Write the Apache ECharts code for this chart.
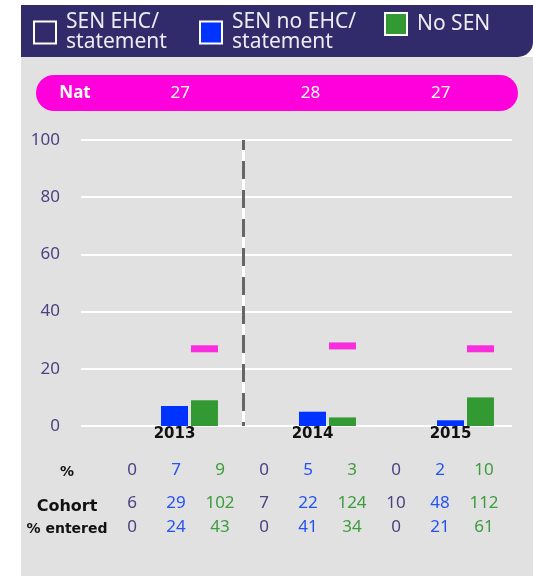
<!DOCTYPE html>
<html>
<head>
<meta charset="utf-8">
<script src="https://cdn.jsdelivr.net/npm/echarts@6/dist/echarts.min.js"></script>
<style>
  html, body { margin: 0; padding: 0; background: #fff; }
  #main { width: 533px; height: 576px; }
</style>
</head>
<body>
<div id="main"></div>
<script>
// chart data
const years = ["2013", "2014", "2015"];
const senEhc = [0, 0, 0];
const senNoEhc = [7, 5, 2];
const noSen = [9, 3, 10];
const nat = [27, 28, 27];
// table under the chart (SEN EHC, SEN no EHC, No SEN per year)
const pctRow = [0, 7, 9, 0, 5, 3, 0, 2, 10];
const cohortRow = [6, 29, 102, 7, 22, 124, 10, 48, 112];
const enteredRow = [0, 24, 43, 0, 41, 34, 0, 21, 61];

const navy = "#312a6b";
const magenta = "#ff00dc";
const blue = "#0033ff";
const green = "#339933";
const axisText = "#4a4282";
const colColors = ["#4a4282", "#2352f5", "#3d9c3d"];
const font = "Noto Sans";
const boldFont = "DejaVu Sans";

function legendItem(name, left, fill) {
  return {
    data: [{ name: name, itemStyle: { color: fill, borderColor: "#fff", borderWidth: 2 } }],
    left: left,
    top: 12,
    padding: 0,
    icon: "rect",
    itemWidth: 22,
    itemHeight: 22,
    selectedMode: false,
    textStyle: {
      color: "#ececf3",
      fontFamily: font,
      fontSize: 21,
      lineHeight: 20,
      padding: [0, 0, 0, 5],
    },
  };
}

// one text row of the table, drawn as a category axis
function tableRow(row, cy) {
  return {
    grid: { left: 110, right: 27, top: cy - 1, height: 1 },
    axis: {
      type: "category",
      data: row,
      axisLine: { show: false },
      axisTick: { show: false },
      axisLabel: {
        interval: 0,
        margin: 0,
        verticalAlign: "middle",
        formatter: function (v, i) {
          return "{c" + (i % 3) + "|" + row[i] + "}";
        },
        rich: {
          c0: { color: colColors[0], fontFamily: font, fontSize: 17 },
          c1: { color: colColors[1], fontFamily: font, fontSize: 17 },
          c2: { color: colColors[2], fontFamily: font, fontSize: 17 },
        },
      },
    },
  };
}

// divider between the first year and the rest (white line with grey dashes)
function divider(lineStyle) {
  return {
    type: "category",
    gridIndex: 1,
    boundaryGap: false,
    data: years.concat(""),
    axisLine: { show: false },
    axisTick: { show: false },
    axisLabel: { show: false },
    splitLine: {
      show: true,
      interval: function (i) {
        return i === 1;
      },
      lineStyle: lineStyle,
    },
  };
}

const rows = [tableRow(pctRow, 470), tableRow(cohortRow, 503), tableRow(enteredRow, 527)];
const natRow = {
  grid: { left: 115, right: 27, top: 92, height: 1 },
  axis: {
    type: "category",
    data: nat,
    axisLine: { show: false },
    axisTick: { show: false },
    axisLabel: { interval: 0, margin: 0, verticalAlign: "middle", color: "#fff", fontFamily: font, fontSize: 17 },
  },
};
const extra = [natRow].concat(rows);

const grids = [
  { left: 81, right: 21, top: 140, bottom: 150 },
  { left: 105.5, right: 13.5, top: 140, bottom: 150 },
].concat(extra.map((r) => r.grid));

const xAxes = [
  { type: "value", gridIndex: 0, show: false, min: 0, max: 1 },
  {
    type: "category",
    gridIndex: 1,
    data: years,
    axisLine: { show: false },
    axisTick: { show: false },
    axisLabel: { margin: 1, color: "#111", fontFamily: boldFont, fontWeight: "bold", fontSize: 15 },
  },
]
  .concat(extra.map((r, i) => Object.assign({ gridIndex: i + 2 }, r.axis)))
  .concat([
    divider({ color: "#fff", width: 3 }),
    divider({ color: "#666", width: 3, type: [18, 11], dashOffset: 8 }),
  ]);

const yAxes = [
  {
    type: "value",
    gridIndex: 0,
    min: 0,
    max: 100,
    interval: 20,
    axisLine: { show: false },
    axisTick: { show: false },
    axisLabel: { margin: 21, color: axisText, fontFamily: font, fontSize: 17 },
    splitLine: { lineStyle: { color: "#fff", width: 2 } },
  },
  { type: "value", gridIndex: 1, min: 0, max: 100, show: false },
].concat(extra.map((r, i) => ({ type: "value", gridIndex: i + 2, show: false })));

const option = {
  animation: false,
  backgroundColor: "#fff",
  legend: [
    legendItem("SEN EHC/\nstatement", 33, navy),
    legendItem("SEN no EHC/\nstatement", 199, blue),
    legendItem("No SEN", 384, green),
  ],
  grid: grids,
  xAxis: xAxes,
  yAxis: yAxes,
  graphic: [
    { type: "rect", z: -10, shape: { x: 21, y: 57, width: 512, height: 519 }, style: { fill: "#e1e1e1" } },
    { type: "rect", z: -9, shape: { x: 21, y: 5, width: 512, height: 52, r: [0, 0, 15, 0] }, style: { fill: navy } },
    { type: "rect", z: -9, shape: { x: 36, y: 75, width: 482, height: 36, r: 18 }, style: { fill: magenta } },
    {
      type: "text", x: 75, y: 93,
      style: { text: "Nat", align: "center", verticalAlign: "middle", fill: "#fff", fontFamily: font, fontWeight: "bold", fontSize: 17 },
    },
    {
      type: "text", x: 67, y: 472,
      style: { text: "%", align: "center", verticalAlign: "middle", fill: "#111", fontFamily: boldFont, fontWeight: "bold", fontSize: 14 },
    },
    {
      type: "text", x: 67, y: 507,
      style: { text: "Cohort", align: "center", verticalAlign: "middle", fill: "#111", fontFamily: boldFont, fontWeight: "bold", fontSize: 16 },
    },
    {
      type: "text", x: 67, y: 529,
      style: { text: "% entered", align: "center", verticalAlign: "middle", fill: "#111", fontFamily: boldFont, fontWeight: "bold", fontSize: 14 },
    },
  ],
  series: [
    {
      name: "SEN EHC/\nstatement",
      type: "bar",
      xAxisIndex: 1,
      yAxisIndex: 1,
      barWidth: 27,
      barGap: "11%",
      itemStyle: { color: "#fff" },
      data: senEhc,
    },
    {
      name: "SEN no EHC/\nstatement",
      type: "bar",
      xAxisIndex: 1,
      yAxisIndex: 1,
      barWidth: 27,
      barGap: "11%",
      itemStyle: { color: blue },
      data: senNoEhc,
    },
    {
      name: "No SEN",
      type: "bar",
      xAxisIndex: 1,
      yAxisIndex: 1,
      barWidth: 27,
      barGap: "11%",
      itemStyle: { color: green },
      data: noSen,
    },
    {
      name: "Nat",
      type: "scatter",
      xAxisIndex: 1,
      yAxisIndex: 1,
      symbol: "rect",
      symbolSize: [27, 7],
      symbolOffset: [30, 0],
      itemStyle: { color: magenta },
      data: nat,
    },
  ],
};

const myChart = echarts.init(document.getElementById("main"));
myChart.setOption(option);
</script>
</body>
</html>
